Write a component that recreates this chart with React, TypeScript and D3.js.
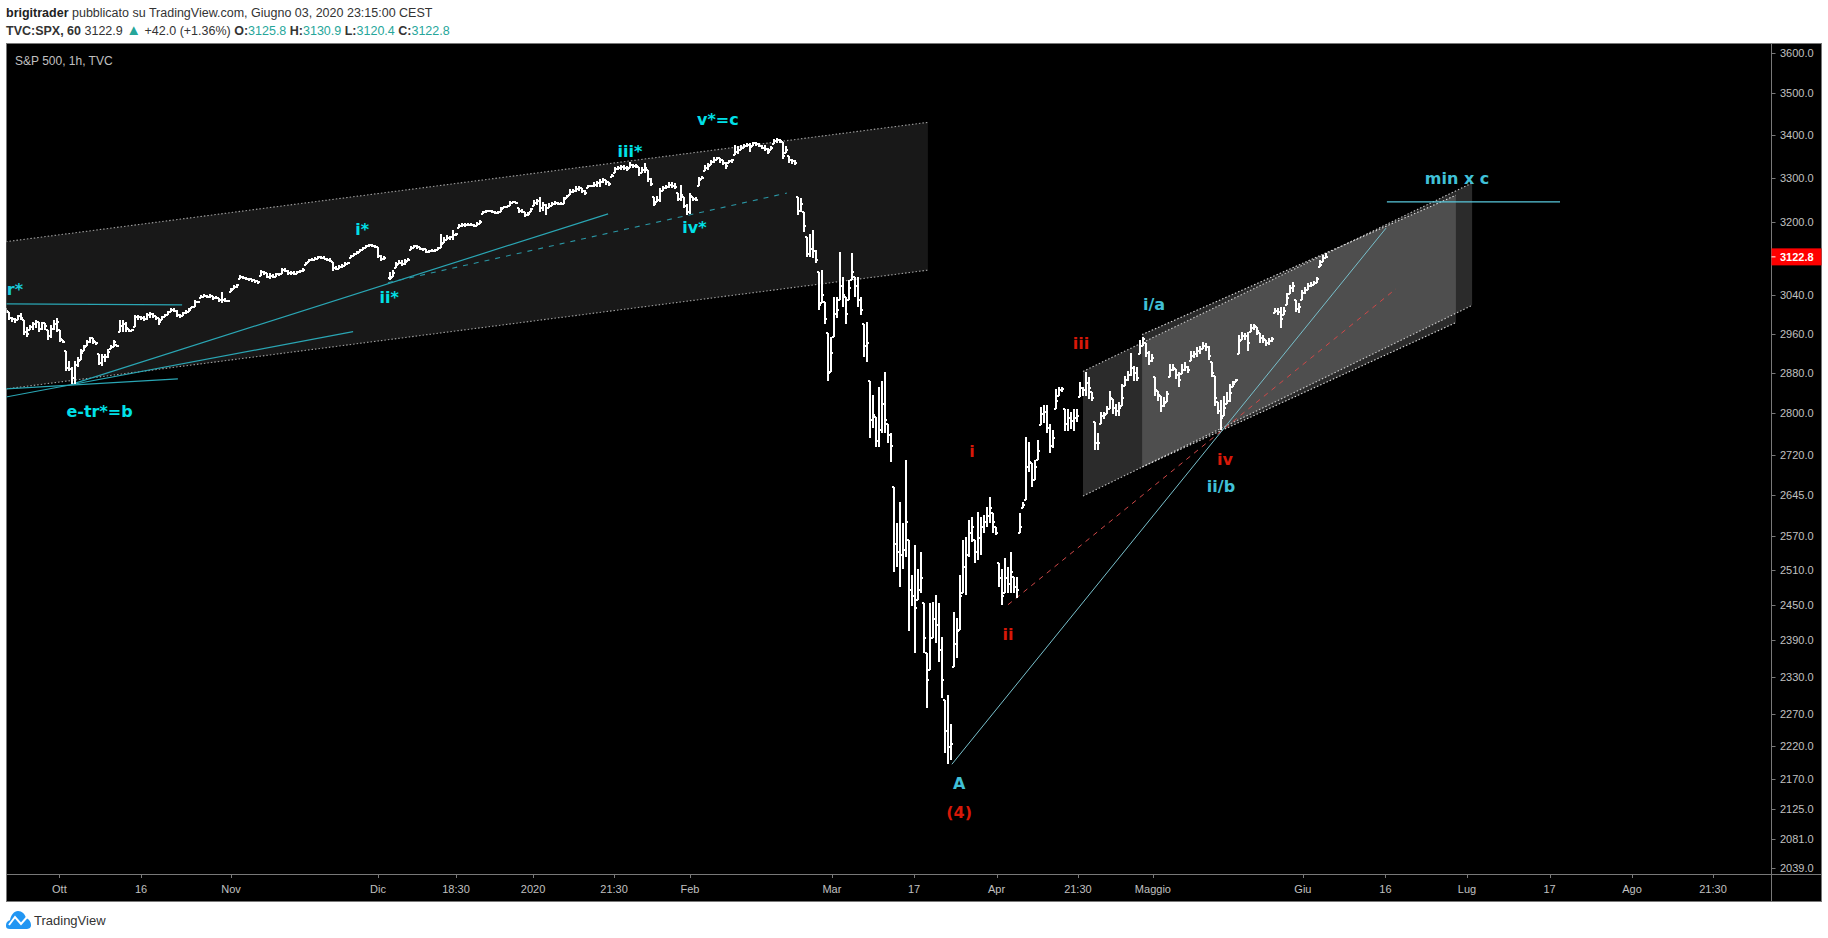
import React, { useEffect, useRef } from 'react';
import * as d3 from 'd3';

type Bar = [number, number, number] | null; // high, low, close

// one entry every 9 session hours or so
const autumnBars: Bar[] = [
  [3013,3003,3008],[3005,2989,2993],[2995,2985,2990],[2993,2983,2988],[2999,2989,2996],[3003,2989,2993],[2989,2958,2964],[2974,2953,2960],[2978,2968,2974],[2985,2968,2980],
  [2989,2972,2985],[2985,2964,2970],[2985,2968,2982],[2983,2968,2975],[2968,2947,2955],[2978,2951,2970],[2989,2968,2980],[2993,2964,2985],[2968,2943,2948],[2947,2941,2943],
  [2924,2883,2890],[2905,2883,2888],[2891,2858,2870],[2905,2858,2895],[2913,2891,2905],[2928,2907,2920],[2937,2924,2932],[2947,2935,2942],[2953,2941,2950],[2951,2939,2945],
  [2943,2937,2940],[2918,2895,2900],[2918,2893,2912],[2918,2903,2912],[2928,2911,2922],[2937,2928,2933],[2947,2932,2942],[2937,2932,2935],[2989,2964,2975],[2989,2964,2980],
  [2985,2964,2972],[2970,2964,2966],[2970,2966,2968],[2999,2974,2995],[2999,2989,2994],[2997,2989,2992],[2997,2987,2990],[3003,2989,2998],[3005,2993,3000],[3003,2993,2996],
  [2997,2989,2992],[2993,2978,2985],[2997,2989,2994],[3001,2995,2998],[3007,2999,3004],[3013,3005,3009],[3013,3005,3008],[3009,2995,2998],[3001,2993,2996],[3005,2997,3002],
  [3009,3001,3006],[3013,3005,3010],[3017,3013,3015],[3030,3015,3026],[3028,3024,3026],[3040,3034,3037],[3042,3036,3039],[3040,3034,3037],[3042,3034,3038],[3038,3030,3034],
  [3038,3032,3035],[3034,3026,3030],[3047,3024,3030],[3034,3026,3028],[3030,3026,3028],[3056,3047,3052],[3063,3054,3058],[3065,3056,3062],[3084,3075,3080],[3082,3075,3078],
  [3080,3073,3076],[3077,3071,3074],[3075,3069,3072],[3073,3067,3070],[3071,3065,3068],[3094,3082,3090],[3092,3084,3088],[3088,3077,3080],[3088,3075,3082],[3086,3077,3080],
  [3088,3080,3085],[3088,3082,3086],[3098,3086,3094],[3098,3090,3092],[3094,3084,3088],[3092,3084,3088],[3092,3084,3086],[3092,3086,3089],[3094,3088,3092],[3098,3090,3095],
];

const winterBars: Bar[] = [
  [3112,3105,3109],[3118,3112,3115],[3120,3114,3117],[3122,3116,3119],[3125,3118,3122],[3125,3118,3120],[3125,3118,3119],[3120,3114,3116],[3120,3112,3114],[3112,3092,3098],
  [3103,3094,3096],[3105,3096,3100],[3107,3098,3103],[3112,3103,3107],[3112,3107,3110],[3127,3120,3124],[3131,3125,3128],[3136,3129,3132],[3140,3133,3137],[3145,3138,3142],
  [3149,3142,3146],[3151,3145,3148],[3151,3145,3147],[3149,3142,3144],[3145,3120,3124],[3127,3114,3118],[3125,3116,3120],null,[3090,3073,3078],[3094,3080,3088],
  [3112,3098,3106],[3116,3107,3110],[3116,3103,3108],[3118,3105,3112],[3120,3114,3117],[3147,3138,3143],[3149,3142,3146],[3149,3140,3144],[3145,3138,3141],[3142,3136,3139],
  [3140,3131,3134],[3138,3131,3135],[3140,3133,3136],[3140,3133,3137],[3145,3138,3142],[3173,3142,3150],[3167,3153,3160],[3171,3160,3165],[3169,3160,3166],[3182,3160,3170],
  [3175,3169,3172],[3195,3186,3190],[3197,3188,3192],[3197,3188,3193],[3197,3191,3194],[3197,3190,3192],[3195,3188,3190],[3200,3191,3196],[3204,3195,3200],[3225,3218,3222],
  [3227,3220,3224],[3227,3223,3225],[3227,3220,3223],[3225,3218,3220],[3225,3218,3222],[3234,3223,3228],[3236,3232,3234],[3236,3232,3235],[3247,3236,3243],[3247,3242,3245],
  [3245,3240,3243],[3232,3220,3225],[3229,3220,3223],[3222,3211,3215],[3222,3213,3217],[3232,3223,3228],[3249,3236,3242],[3251,3238,3246],[3256,3223,3230],[3245,3225,3238],
  [3240,3216,3230],[3243,3231,3236],[3245,3236,3240],[3247,3238,3242],[3245,3238,3240],[3245,3238,3241],[3256,3240,3252],[3261,3254,3258],[3274,3261,3268],[3274,3265,3270],
  [3281,3267,3275],[3281,3270,3276],[3277,3265,3270],[3272,3261,3265],[3283,3277,3280],[3283,3279,3281],[3290,3279,3284],[3292,3279,3288],[3297,3279,3290],[3299,3288,3295],
];

const topBars: Bar[] = [
  [3295,3283,3290],[3290,3281,3285],[3308,3302,3305],[3325,3311,3320],[3327,3318,3323],[3329,3318,3324],[3329,3318,3322],[3327,3316,3320],[3336,3322,3330],[3332,3322,3328],
  [3332,3322,3326],[3325,3304,3310],[3325,3311,3318],[3334,3311,3322],[3318,3290,3296],[3299,3281,3285],[3256,3236,3241],[3258,3245,3250],[3277,3245,3270],[3281,3270,3276],
  [3283,3274,3279],[3290,3277,3284],[3290,3277,3282],[3288,3274,3278],[3265,3247,3252],[3283,3247,3260],[3256,3231,3236],[3240,3216,3222],[3265,3218,3258],[3256,3247,3252],
  [3256,3247,3250],[3302,3281,3295],[3304,3297,3300],[3329,3316,3322],[3334,3318,3328],[3341,3329,3336],[3348,3334,3342],[3348,3341,3345],[3345,3334,3340],[3341,3329,3335],
  [3336,3320,3326],[3341,3334,3338],[3343,3334,3340],[3376,3352,3360],[3373,3355,3365],[3376,3364,3370],[3378,3369,3374],[3381,3371,3376],[3381,3359,3372],[3383,3373,3380],
  [3383,3373,3378],[3381,3371,3375],[3376,3366,3370],[3376,3362,3368],[3369,3355,3360],[3373,3364,3370],[3390,3378,3385],[3392,3381,3388],[3390,3381,3385],[3383,3343,3350],
  [3373,3357,3365],[3350,3334,3340],[3343,3332,3338],[3341,3329,3334],
];

const crashBars: Bar[] = [
  [3256,3216,3225],[3254,3223,3240],[3222,3177,3190],[3166,3122,3128],[3173,3122,3140],[3182,3120,3135],[3138,3109,3115],[3090,3009,3020],[3094,3024,3040],[3026,2979,2990],
  [2962,2864,2880],[2953,2881,2920],[3036,2953,3000],[3036,2993,3010],[3134,3030,3060],[3079,3015,3040],[3036,2979,3000],[3073,3030,3055],[3132,3073,3090],[3079,3036,3060],
  [3079,3015,3030],[3036,2999,3010],[2979,2913,2935],[2985,2903,2940],[2863,2752,2787],[2836,2772,2797],[2792,2735,2747],[2851,2735,2767],[2863,2762,2818],[2882,2762,2787],
  [2780,2742,2757],[2762,2706,2737],[2659,2506,2556],[2594,2516,2541],[2632,2481,2536],[2594,2511,2546],[2710,2533,2596],[2564,2406,2475],[2502,2447,2465],[2555,2369,2445],
  [2511,2458,2475],[2542,2470,2496],[2453,2369,2394],[2369,2279,2324],[2453,2341,2394],[2455,2394,2425],[2467,2385,2415],[2453,2354,2374],[2395,2296,2324],[2292,2209,2243],
  [2300,2192,2218],[2255,2199,2223],
];

const reboundBars: Bar[] = [
  [2437,2346,2384],[2428,2361,2405],[2502,2408,2465],[2564,2470,2516],[2569,2467,2536],[2599,2533,2576],[2605,2559,2586],[2564,2523,2541],[2613,2528,2566],[2605,2537,2586],
  [2608,2576,2596],[2623,2586,2606],[2641,2594,2621],[2612,2576,2596],[2586,2572,2576],[2523,2481,2496],[2511,2450,2465],[2531,2470,2496],[2516,2470,2485],[2541,2470,2506],
  [2497,2470,2480],[2497,2462,2475],[2612,2576,2586],[2632,2621,2626],[2755,2636,2697],[2744,2687,2707],[2704,2660,2672],[2710,2673,2697],[2749,2710,2727],[2813,2778,2798],
  [2817,2781,2803],[2817,2762,2772],[2780,2723,2737],[2767,2733,2752],[2848,2809,2825],[2852,2834,2845],[2852,2842,2848],[2809,2766,2780],[2809,2766,2790],[2803,2770,2785],
  [2809,2766,2790],[2809,2783,2795],[2862,2832,2850],[2852,2834,2845],[2881,2834,2860],[2872,2828,2850],[2842,2824,2830],[2783,2729,2742],[2762,2729,2742],[2803,2779,2795],
  [2803,2789,2797],[2815,2799,2808],[2844,2809,2830],[2828,2799,2810],[2819,2795,2805],[2823,2795,2810],[2858,2815,2830],[2874,2854,2865],[2883,2864,2875],[2920,2874,2890],
  [2893,2864,2880],[2891,2864,2870],[2947,2918,2935],[2953,2934,2948],[2941,2913,2920],[2924,2895,2905],[2918,2901,2910],[2872,2834,2845],[2844,2824,2835],[2834,2803,2815],
  [2832,2813,2820],[2844,2822,2838],[2897,2872,2885],[2897,2883,2890],[2887,2868,2875],[2881,2852,2865],[2897,2877,2885],[2901,2883,2892],[2893,2879,2885],[2924,2905,2915],
  [2924,2911,2918],[2932,2913,2925],[2934,2918,2928],[2943,2928,2935],[2941,2924,2932],[2934,2907,2915],[2903,2872,2880],[2874,2815,2830],[2823,2799,2805],[2826,2768,2790],
  [2834,2795,2810],[2842,2819,2825],[2858,2823,2840],[2864,2852,2858],[2868,2862,2865],[2958,2918,2945],[2964,2947,2955],[2962,2947,2955],[2964,2924,2940],[2979,2964,2972],
  [2979,2968,2975],[2974,2958,2965],[2962,2941,2950],[2958,2941,2948],[2947,2934,2940],[2951,2937,2944],[2953,2943,2948],[3013,3003,3008],[3013,2999,3005],[3015,2972,2990],
  [3015,2999,3008],[3046,3020,3035],[3063,3042,3055],[3069,3048,3060],[3030,3005,3012],[3024,3003,3015],[3052,3030,3045],[3058,3042,3052],[3067,3052,3060],[3069,3058,3063],
  [3071,3063,3067],[3079,3067,3075],[3116,3101,3105],[3127,3112,3120],[3130.9,3120.4,3122.8],
];

const priceTicks = [3600,3500,3400,3300,3200,3040,2960,2880,2800,2720,2645,2570,2510,2450,2390,2330,2270,2220,2170,2125,2081,2039];
const lastPrice = 3122.8;

const timeTicks: [number, string][] = [
  [17.8,'Ott'],[45,'16'],[75,'Nov'],[124,'Dic'],[150,'18:30'],[175.7,'2020'],[202.7,'21:30'],[228,'Feb'],[275.3,'Mar'],[302.7,'17'],
  [330.2,'Apr'],[357.3,'21:30'],[382.3,'Maggio'],[432.3,'Giu'],[459.8,'16'],[487,'Lug'],[514.5,'17'],[542,'Ago'],[569,'21:30'],
];

// drawings, as [bar, price] anchors
const bigChannel: [number, number][] = [[0,3156],[307.3,3430],[307.3,3094],[0,2848]];
const outerChannel: [number, number][] = [[359,2883],[488.7,3288],[488.7,3019],[359,2643]];
const innerChannel: [number, number][] = [[378.7,2958],[483.3,3260],[483.3,2983],[378.7,2697]];

const tealLines: [number, number][][] = [
  [[0,3022],[58.7,3020]],
  [[22.3,2858],[200.7,3218]],
  [[0,2832],[115.7,2964]],
  [[0,2848],[57.3,2868]],
];
const tealDashed: [number, number][] = [[127.3,3067],[260.3,3265]];
const lightLine: [number, number][] = [[315.3,2192],[460,3186]];
const redDashed: [number, number][] = [[334,2450],[463.3,3054]];
const targetLine: [number, number][] = [[460.3,3245],[518,3245]];

const CYAN = '#00e0e8';
const BLUE = '#40c0d8';
const RED = '#d81808';
const waveLabels: [number, number, string, string][] = [
  [3,3040,'r*','#18c8d8'],[31.2,2793,'e-tr*=b',CYAN],[118.7,3171,'i*',CYAN],[127.7,3024,'ii*',CYAN],[208,3348,'iii*',CYAN],
  [237.3,3424,'v*=c',CYAN],[229.5,3175,'iv*',CYAN],[322,2716,'i',RED],[334,2391,'ii',RED],[317.7,2155,'A',BLUE],
  [317.7,2112,'(4)',RED],[358.3,2928,'iii',RED],[382.7,3009,'i/a',BLUE],[406.3,2701,'iv',RED],[405,2651,'ii/b',BLUE],[483.7,3286,'min x c',BLUE],
];

const width = 1828;
const height = 938;
const plot = { left: 6.5, top: 43.5, right: 1771.5, bottom: 874.5, outer: 1821.5, foot: 901.5 };
const UI_FONT = '"Liberation Sans", Arial, sans-serif';

const App: React.FC = () => {
  const svgRef = useRef<SVGSVGElement>(null);

  useEffect(() => {
    const svg = d3.select(svgRef.current);
    svg.selectAll('*').remove();

    const bars = [...autumnBars, ...winterBars, ...topBars, ...crashBars, ...reboundBars];

    const x = d3.scaleLinear().domain([0, 440]).range([6, 1326]);
    const y = d3.scaleLog().domain([2039, 3600]).range([868, 53]);
    const line = d3.line<[number, number]>().x(d => x(d[0])).y(d => y(d[1]));

    svg.append('rect').attr('width', width).attr('height', height).attr('fill', '#fff');
    svg.append('rect')
      .attr('x', plot.left).attr('y', plot.top)
      .attr('width', plot.outer - plot.left).attr('height', plot.foot - plot.top)
      .attr('fill', '#000').attr('stroke', '#787878');

    const defs = svg.append('defs');
    defs.append('clipPath').attr('id', 'plot-clip').append('rect')
      .attr('x', plot.left).attr('y', plot.top)
      .attr('width', plot.right - plot.left).attr('height', plot.bottom - plot.top);

    const g = svg.append('g').attr('clip-path', 'url(#plot-clip)');

    // Channels
    const channel = (pts: [number, number][], fill: string, edge: string) => {
      g.append('path').attr('d', line(pts) + 'Z').attr('fill', fill);
      [[pts[0], pts[1]], [pts[3], pts[2]]].forEach(seg => {
        g.append('path').attr('d', line(seg as [number, number][])!)
          .attr('fill', 'none').attr('stroke', edge).attr('stroke-width', 1.1)
          .attr('stroke-dasharray', '1.5,2');
      });
    };
    channel(bigChannel, '#181818', '#a0a0a0');
    channel(outerChannel, 'rgba(255,255,255,0.17)', '#c0c0c0');
    channel(innerChannel, 'rgba(255,255,255,0.17)', '#dcdcdc');

    // Trend lines
    tealLines.forEach(seg => {
      g.append('path').attr('d', line(seg)!).attr('fill', 'none')
        .attr('stroke', '#2aa6b4').attr('stroke-width', 1.2);
    });
    g.append('path').attr('d', line(tealDashed)!).attr('fill', 'none')
      .attr('stroke', '#2a96a4').attr('stroke-width', 1.1).attr('stroke-dasharray', '5,6');
    g.append('path').attr('d', line(redDashed)!).attr('fill', 'none')
      .attr('stroke', '#d04848').attr('stroke-width', 1).attr('stroke-dasharray', '5,5');
    g.append('path').attr('d', line(lightLine)!).attr('fill', 'none')
      .attr('stroke', '#78c0cc').attr('stroke-width', 1);
    g.append('path').attr('d', line(targetLine)!).attr('fill', 'none')
      .attr('stroke', '#58c8dc').attr('stroke-width', 1.2);

    // OHLC bars, open taken from the previous close
    const barPath = (b: Bar, i: number) => {
      if (!b) return '';
      const prev = bars[i - 1];
      const open = prev ? prev[2] : b[2];
      const px = Math.round(x(i));
      return `M${px},${y(b[0])}V${y(b[1])}M${px - 2},${y(Math.min(b[0], Math.max(b[1], open)))}H${px}M${px},${y(b[2])}H${px + 2}`;
    };
    g.selectAll('.bar')
      .data(bars)
      .join('path')
      .attr('class', 'bar')
      .attr('d', (d, i) => barPath(d as Bar, i))
      .attr('fill', 'none')
      .attr('stroke', '#fff')
      .attr('stroke-width', 2)
      .attr('shape-rendering', 'crispEdges');

    // Wave labels
    g.selectAll('.wave')
      .data(waveLabels)
      .join('text')
      .attr('class', 'wave')
      .attr('x', d => x(d[0]))
      .attr('y', d => y(d[1]))
      .attr('text-anchor', 'middle')
      .attr('font-family', '"DejaVu Sans", sans-serif')
      .attr('font-weight', 'bold')
      .attr('font-size', 16)
      .attr('fill', d => d[3])
      .text(d => d[2]);

    // Right axis
    svg.append('line').attr('x1', plot.right).attr('x2', plot.right)
      .attr('y1', plot.top).attr('y2', plot.foot).attr('stroke', '#787878');
    svg.append('line').attr('x1', plot.left).attr('x2', plot.outer)
      .attr('y1', plot.bottom).attr('y2', plot.bottom).attr('stroke', '#787878');

    const yAxis = svg.append('g');
    yAxis.selectAll('line')
      .data(priceTicks)
      .join('line')
      .attr('x1', plot.right).attr('x2', plot.right + 4)
      .attr('y1', d => Math.round(y(d)) + 0.5).attr('y2', d => Math.round(y(d)) + 0.5)
      .attr('stroke', '#787878');
    yAxis.selectAll('text')
      .data(priceTicks)
      .join('text')
      .attr('x', 1780)
      .attr('y', d => y(d) + 4)
      .attr('font-family', UI_FONT)
      .attr('font-size', 11)
      .attr('fill', '#c0c0c0')
      .text(d => d.toFixed(1));

    const lastY = y(lastPrice);
    svg.append('rect').attr('x', plot.right).attr('y', lastY - 8.5)
      .attr('width', plot.outer - plot.right).attr('height', 17).attr('fill', '#ff0000');
    svg.append('line').attr('x1', plot.right).attr('x2', plot.right + 4)
      .attr('y1', lastY).attr('y2', lastY).attr('stroke', '#fff');
    svg.append('text').attr('x', 1780).attr('y', lastY + 4)
      .attr('font-family', UI_FONT).attr('font-size', 11).attr('font-weight', 'bold')
      .attr('fill', '#fff').text(lastPrice.toFixed(1));

    // Bottom axis
    const xAxis = svg.append('g');
    xAxis.selectAll('line')
      .data(timeTicks)
      .join('line')
      .attr('x1', d => Math.round(x(d[0])) + 0.5).attr('x2', d => Math.round(x(d[0])) + 0.5)
      .attr('y1', plot.bottom).attr('y2', plot.bottom + 3.5)
      .attr('stroke', '#787878');
    xAxis.selectAll('text')
      .data(timeTicks)
      .join('text')
      .attr('x', d => x(d[0]))
      .attr('y', 893)
      .attr('text-anchor', 'middle')
      .attr('font-family', UI_FONT)
      .attr('font-size', 11)
      .attr('fill', '#c0c0c0')
      .text(d => d[1]);

    // Header
    const head1 = svg.append('text').attr('x', 6).attr('y', 17)
      .attr('font-family', UI_FONT).attr('font-size', 12.5).attr('fill', '#333');
    head1.append('tspan').attr('font-weight', 'bold').attr('fill', '#222').text('brigitrader');
    head1.append('tspan').text(' pubblicato su TradingView.com, Giugno 03, 2020 23:15:00 CEST');

    const GREEN = '#26a69a';
    const head2 = svg.append('text').attr('x', 6).attr('y', 35)
      .attr('font-family', UI_FONT).attr('font-size', 12.5).attr('fill', '#333');
    head2.append('tspan').attr('font-weight', 'bold').text('TVC:SPX, 60');
    head2.append('tspan').text('  3122.9 ');
    head2.append('tspan').attr('fill', GREEN).attr('font-size', 15).text('▲');
    head2.append('tspan').text(' +42.0 (+1.36%) ');
    [['O:', '3125.8'], ['H:', '3130.9'], ['L:', '3120.4'], ['C:', '3122.8']].forEach(([k, v]) => {
      head2.append('tspan').attr('font-weight', 'bold').text(k);
      head2.append('tspan').attr('fill', GREEN).text(v + ' ');
    });

    svg.append('text').attr('x', 15).attr('y', 65)
      .attr('font-family', UI_FONT).attr('font-size', 12).attr('fill', '#c0c0c0')
      .text('S&P 500, 1h, TVC');

    // Footer logo
    const logo = svg.append('g').attr('transform', 'translate(6,911)');
    logo.append('path')
      .attr('d', 'M0,15 C0,11 2,10 4,9 C5,4 8,0 12,0 C16,0 19,3 20,7 C23,8 25,11 25,14 C25,17 23,18 20,18 L4,18 C1,18 0,17 0,15Z')
      .attr('fill', '#2196f3');
    logo.append('path').attr('d', 'M3,14 L9,6 L15,13 L22,5')
      .attr('fill', 'none').attr('stroke', '#fff').attr('stroke-width', 2);
    svg.append('text').attr('x', 34).attr('y', 925)
      .attr('font-family', UI_FONT).attr('font-size', 13).attr('fill', '#333')
      .text('TradingView');
  }, []);

  return <svg ref={svgRef} width={width} height={height} style={{ position: 'absolute', left: 0, top: 0 }} />;
};

export default App;
